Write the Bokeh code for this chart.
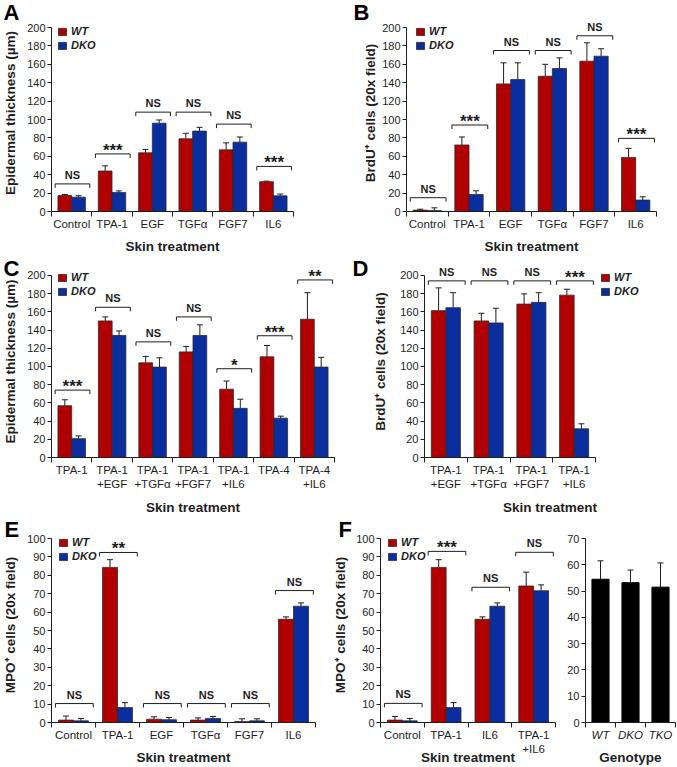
import numpy as np
from bokeh.plotting import figure
from bokeh.models import (Range1d, FixedTicker, ColumnDataSource, Whisker, TeeHead,
                          Legend, LegendItem, Title)
from bokeh.layouts import column, row
from bokeh.embed import file_html
from bokeh.resources import INLINE
from bokeh.core.properties import value, field

FONT = "Liberation Sans"
INK = "#1e1e1e"
RED = "#B00000"
BLUE = "#0B2E9E"
EDGE = "#2b2b2b"

# ---------------- data ----------------
# Panel A: epidermal thickness (um)
a_cats = ["Control", "TPA-1", "EGF", "TGF\u03b1", "FGF7", "IL6"]
a_wt = [17.4, 44.0, 63.8, 79.0, 67.0, 32.4]
a_wt_sem = [1.1, 5.6, 3.7, 6.0, 7.6, 0.6]
a_dko = [15.6, 20.6, 96.0, 87.4, 75.4, 17.0]
a_dko_sem = [1.5, 1.8, 3.5, 4.1, 5.6, 2.0]
a_br = [30, 62.6, 108, 108, 95, 49]
a_sig = ["NS", "***", "NS", "NS", "NS", "***"]

# Panel B: BrdU+ cells (20x field)
b_cats = ["Control", "TPA-1", "EGF", "TGF\u03b1", "FGF7", "IL6"]
b_wt = [1.5, 72.3, 138.7, 147.0, 163.4, 58.8]
b_wt_sem = [1.0, 8.7, 22.9, 13.0, 20.0, 9.8]
b_dko = [1.0, 18.5, 143.4, 155.4, 168.8, 12.4]
b_dko_sem = [3.0, 4.0, 18.2, 11.6, 8.1, 3.6]
b_br = [15, 94, 175, 175, 191, 79.5]
b_sig = ["NS", "***", "NS", "NS", "NS", "***"]

# Panel C: epidermal thickness (um)
c_cats = ["TPA-1", "TPA-1\n+EGF", "TPA-1\n+TGF\u03b1", "TPA-1\n+FGF7", "TPA-1\n+IL6", "TPA-4", "TPA-4\n+IL6"]
c_wt = [56.9, 150.0, 104.0, 116.0, 75.0, 110.6, 151.8]
c_wt_sem = [6.5, 4.4, 7.0, 6.0, 9.0, 12.4, 29.2]
c_dko = [20.7, 134.0, 99.3, 134.0, 54.0, 43.2, 99.3]
c_dko_sem = [3.0, 5.0, 10.2, 11.7, 10.0, 2.2, 10.7]
c_br = [74, 165, 127, 154.4, 97.5, 133.7, 195]
c_sig = ["***", "NS", "NS", "NS", "*", "***", "**"]

# Panel D: BrdU+ cells (20x field)
d_cats = ["TPA-1\n+EGF", "TPA-1\n+TGF\u03b1", "TPA-1\n+FGF7", "TPA-1\n+IL6"]
d_wt = [161.3, 150.0, 168.5, 178.3]
d_wt_sem = [25.0, 8.4, 11.2, 6.5]
d_dko = [164.5, 147.8, 170.4, 31.5]
d_dko_sem = [16.5, 16.1, 10.6, 5.5]
d_br = [194, 194, 194, 194]
d_sig = ["NS", "NS", "NS", "***"]

# Panel E: MPO+ cells (20x field)
e_cats = ["Control", "TPA-1", "EGF", "TGF\u03b1", "FGF7", "IL6"]
e_wt = [1.3, 84.3, 1.8, 1.3, 0.5, 56.1]
e_wt_sem = [2.2, 4.2, 1.3, 1.2, 1.5, 1.3]
e_dko = [0.9, 8.1, 1.5, 2.2, 0.9, 63.2]
e_dko_sem = [1.3, 2.7, 1.2, 1.1, 1.1, 1.8]
e_br = [10.3, 92.4, 10.3, 10.3, 10.3, 71.7]
e_sig = ["NS", "**", "NS", "NS", "NS", "NS"]

# Panel F (left): MPO+ cells (20x field)
f_cats = ["Control", "TPA-1", "IL6", "TPA-1\n+IL6"]
f_wt = [1.3, 84.3, 56.1, 74.2]
f_wt_sem = [2.0, 4.2, 1.3, 7.5]
f_dko = [0.9, 8.1, 63.2, 71.6]
f_dko_sem = [1.3, 2.7, 1.8, 3.2]
f_br = [10.4, 93.0, 73.5, 92.5]
f_sig = ["NS", "***", "NS", "NS"]

# Panel F (right): genotype
g_cats = ["WT", "DKO", "TKO"]
g_vals = [54.5, 53.2, 51.5]
g_sem = [7.0, 4.8, 9.2]

AX = 184.0  # pixel span of 0..ymax on every value axis


def make_panel(width, height, ml, mr, mt, mb, n, ymax, ystep, cats, letter, letter_x,
               title_drop, ylabel=None, yl_standoff=6, xlabel="Skin treatment",
               xl_standoff=6, x_end=None, italic_ticks=False):
    ppu = AX / ymax
    H = height - mt - mb
    y_end = H / ppu
    p = figure(width=width, height=height, output_backend="svg", toolbar_location=None,
               x_range=Range1d(0, n if x_end is None else x_end),
               y_range=Range1d(0, y_end),
               min_border_left=ml, min_border_right=mr,
               min_border_top=mt, min_border_bottom=mb,
               background_fill_color="white", border_fill_color="white")
    p.xgrid.visible = False
    p.ygrid.visible = False
    p.outline_line_color = None

    # panel letter as the plot title
    p.title = Title(text=letter, align="left", offset=letter_x - ml,
                    standoff=mt - title_drop, text_font=FONT, text_font_size="22px",
                    text_font_style="bold", text_color="black")

    xa = p.xaxis[0]
    centers = [i + 0.5 for i in range(n)]
    xa.ticker = FixedTicker(ticks=centers, minor_ticks=list(range(n + 1)))
    xa.major_label_overrides = {c: lab for c, lab in zip(centers, cats)}
    xa.bounds = (0, n)
    xa.major_tick_line_color = None
    xa.major_tick_out = 0
    xa.major_tick_in = 0
    xa.minor_tick_in = 0
    xa.minor_tick_out = 5
    xa.minor_tick_line_color = INK
    xa.axis_line_color = INK
    xa.major_label_text_font = FONT
    xa.major_label_text_font_size = "11.5px"
    xa.major_label_text_color = INK
    xa.major_label_standoff = 1
    if italic_ticks:
        xa.major_label_text_font_style = "italic"
    xa.axis_label = xlabel
    xa.axis_label_text_font = FONT
    xa.axis_label_text_font_size = "13.5px"
    xa.axis_label_text_font_style = "bold"
    xa.axis_label_text_color = INK
    xa.axis_label_standoff = xl_standoff

    ya = p.yaxis[0]
    ya.ticker = FixedTicker(ticks=list(range(0, ymax + 1, ystep)))
    ya.bounds = (0, ymax)
    ya.major_tick_out = 4
    ya.major_tick_in = 0
    ya.major_tick_line_color = INK
    ya.minor_tick_line_color = None
    ya.axis_line_color = INK
    ya.major_label_text_font = FONT
    ya.major_label_text_font_size = "11px"
    ya.major_label_text_color = INK
    ya.major_label_standoff = 2
    if ylabel:
        ya.axis_label = ylabel
        ya.axis_label_text_font = FONT
        ya.axis_label_text_font_size = "13.5px"
        ya.axis_label_text_font_style = "bold"
        ya.axis_label_text_color = INK
        ya.axis_label_standoff = yl_standoff
    return p, ppu


def bar_pair(p, wt, wt_sem, dko, dko_sem):
    idx = np.arange(len(wt))
    rs = []
    for vals, sem, off, col in ((wt, wt_sem, 0.33, RED), (dko, dko_sem, 0.67, BLUE)):
        v = np.array(vals, float)
        s = np.array(sem, float)
        src = ColumnDataSource(dict(x=idx + off, top=v, up=v + s))
        r = p.vbar(x="x", top="top", bottom=0, width=0.34, source=src,
                   fill_color=col, line_color=EDGE, line_width=0.8)
        p.add_layout(Whisker(source=src, base="x", lower="top", upper="up",
                             line_color=INK, line_width=1,
                             upper_head=TeeHead(size=6, line_color=INK, line_width=1),
                             lower_head=None))
        rs.append(r)
    return rs


def brackets(p, yb, sig, ppu):
    n = len(yb)
    tick = 4.0 / ppu
    xl = [i + 0.09 for i in range(n)]
    xr = [i + 0.95 for i in range(n)]
    yb = list(map(float, yb))
    p.segment(x0=xl + xl + xr, y0=yb + yb + yb,
              x1=xr + xl + xr, y1=yb + [y - tick for y in yb] + [y - tick for y in yb],
              line_color=INK, line_width=1)
    src = ColumnDataSource(dict(
        x=[i + 0.52 for i in range(n)], y=yb, t=sig,
        fs=["11px" if s == "NS" else "17px" for s in sig],
        yo=[-9 if s == "NS" else -3.5 for s in sig]))
    p.text(x="x", y="y", text="t", source=src, text_font=value(FONT),
           text_font_size=field("fs"), text_font_style="bold", text_align="center",
           text_baseline="middle", y_offset=field("yo"), text_color=INK)


def legend(p, rs, x_rel):
    lh = 28
    lg = Legend(items=[LegendItem(label="WT", renderers=[rs[0]]),
                       LegendItem(label="DKO", renderers=[rs[1]])],
                location=(x_rel, AX + 4 - lh), orientation="vertical",
                padding=0, spacing=2, margin=0, glyph_width=10, glyph_height=9,
                label_standoff=4, label_height=10,
                label_text_font=FONT, label_text_font_size="11px",
                label_text_font_style="bold italic", label_text_color=INK,
                background_fill_alpha=0, border_line_color=None)
    p.add_layout(lg)


YL_THICK = "Epidermal thickness (\u00b5m)"
YL_BRDU = "BrdU\u207a cells (20x field)"
YL_MPO = "MPO\u207a cells (20x field)"

# ---- Row 1 ----
R1, MT1, MB1, TD1 = 257, 14, 46, 34
pa, ppa = make_panel(338, R1, 46, 45, MT1, MB1, 6, 200, 20, a_cats, "A", -2, TD1, YL_THICK)
ra = bar_pair(pa, a_wt, a_wt_sem, a_dko, a_dko_sem)
brackets(pa, a_br, a_sig, ppa)
legend(pa, ra, 6)

pb, ppb = make_panel(339, R1, 68, 21, MT1, MB1, 6, 200, 20, b_cats, "B", 15, TD1, YL_BRDU,
                     yl_standoff=1)
rb = bar_pair(pb, b_wt, b_wt_sem, b_dko, b_dko_sem)
brackets(pb, b_br, b_sig, ppb)
legend(pb, rb, 9)

# ---- Row 2 ----
R2, MT2, MB2, TD2 = 260, 8, 58, 38
pc, ppc = make_panel(342, R2, 46, 8, MT2, MB2, 7, 200, 20, c_cats, "C", -2, TD2, YL_THICK,
                     xl_standoff=7)
rc = bar_pair(pc, c_wt, c_wt_sem, c_dko, c_dko_sem)
brackets(pc, c_br, c_sig, ppc)
legend(pc, rc, 6)

D_CAT = 42.75
pd_, ppd = make_panel(335, R2, 82, 2, MT2, MB2, 4, 200, 20, d_cats, "D", 10, TD2, YL_BRDU,
                      yl_standoff=9, xl_standoff=7, x_end=(335 - 84) / D_CAT)
rd = bar_pair(pd_, d_wt, d_wt_sem, d_dko, d_dko_sem)
brackets(pd_, d_br, d_sig, ppd)
legend(pd_, rd, 4 * D_CAT + 5)

# ---- Row 3 ----
R3, MT3, MB3, TD3 = 250, 10, 45, 38
pe, ppe = make_panel(330, R3, 45, 15, MT3, MB3, 6, 100, 10, e_cats, "E", -2, TD3, YL_MPO)
re_ = bar_pair(pe, e_wt, e_wt_sem, e_dko, e_dko_sem)
brackets(pe, e_br, e_sig, ppe)
legend(pe, re_, 7)

pf, ppf = make_panel(230, R3, 44, 5, MT3, MB3, 4, 100, 10, f_cats, "F", 2, TD3, YL_MPO,
                     yl_standoff=5, xl_standoff=-8)
rf = bar_pair(pf, f_wt, f_wt_sem, f_dko, f_dko_sem)
brackets(pf, f_br, f_sig, ppf)
legend(pf, rf, 7)

pg, ppg = make_panel(117, R3, 25, 2, MT3, MB3, 3, 70, 10, g_cats, "", 0, TD3, None,
                     xlabel="Genotype", italic_ticks=True)
gsrc = ColumnDataSource(dict(x=np.arange(3) + 0.5, top=np.array(g_vals),
                             up=np.array(g_vals) + np.array(g_sem)))
pg.vbar(x="x", top="top", bottom=0, width=0.57, source=gsrc, fill_color="black", line_color="black")
pg.add_layout(Whisker(source=gsrc, base="x", lower="top", upper="up", line_color=INK, line_width=1,
                      upper_head=TeeHead(size=6, line_color=INK, line_width=1), lower_head=None))

layout = column(row(pa, pb), row(pc, pd_), row(pe, pf, pg))
open("out.html", "w").write(file_html(layout, INLINE))
